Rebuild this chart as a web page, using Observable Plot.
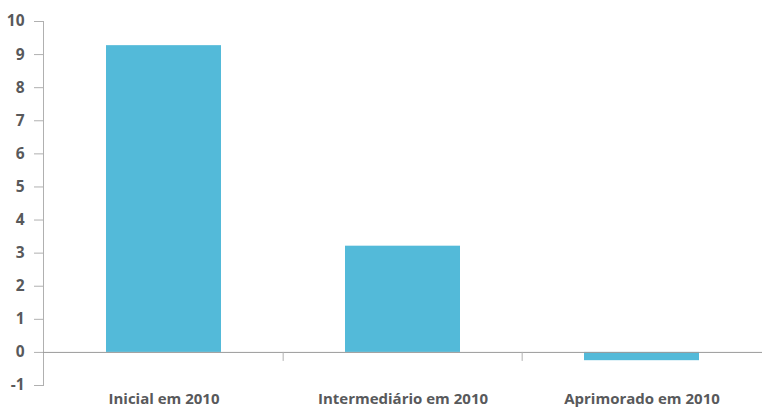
<!DOCTYPE html>
<html>
<head>
<meta charset="utf-8">
<script src="https://cdn.jsdelivr.net/npm/d3@7"></script>
<script src="https://cdn.jsdelivr.net/npm/@observablehq/plot@0.6"></script>
<style>
  html, body { margin: 0; padding: 0; background: #fff; }
</style>
</head>
<body>
<div id="chart"></div>
<script>
// Categories and their values
const categories = ["Inicial em 2010", "Intermediário em 2010", "Aprimorado em 2010"];
const values = [9.27, 3.21, -0.25];
const yTicks = [-1, 0, 1, 2, 3, 4, 5, 6, 7, 8, 9, 10];

const data = categories.map((c, i) => ({category: c, value: values[i]}));

const W = 771, H = 408;
const margin = {top: 21, right: 9, bottom: 23, left: 43};
// band step (outer padding is half the inner padding, so step = width / n)
const step = (W - margin.left - margin.right) / categories.length;

const textColor = "#58595b";
const axisColor = "#b0b0b0";

const chart = Plot.plot({
  width: W,
  height: H,
  marginTop: margin.top,
  marginRight: margin.right,
  marginBottom: margin.bottom,
  marginLeft: margin.left,
  style: {fontFamily: "'Open Sans', sans-serif", background: "#fff"},
  x: {domain: categories, paddingInner: 0.517, paddingOuter: 0.2585, label: null},
  y: {domain: [-1, 10], label: null},
  marks: [
    Plot.barY(data, {x: "category", y: "value", fill: "#53bad9"}),
    // vertical axis line
    Plot.frame({anchor: "left", stroke: axisColor}),
    // zero baseline
    Plot.ruleY([0], {stroke: "#9a9a9a"}),
    // category separators below the baseline
    Plot.ruleX(categories.slice(1), {y1: 0, y2: 0, insetBottom: -9, dx: -step / 2, stroke: axisColor}),
    Plot.axisY({
      ticks: yTicks, tickSize: 9, tickPadding: 10, tickFormat: d => String(d),
      stroke: axisColor, fill: textColor, fontSize: 15.5, fontWeight: "bold", label: null
    }),
    Plot.axisX({
      tickSize: 0, tickPadding: 8, fill: textColor, fontSize: 15, fontWeight: "bold", label: null
    })
  ]
});

document.getElementById("chart").appendChild(chart);
</script>
</body>
</html>
